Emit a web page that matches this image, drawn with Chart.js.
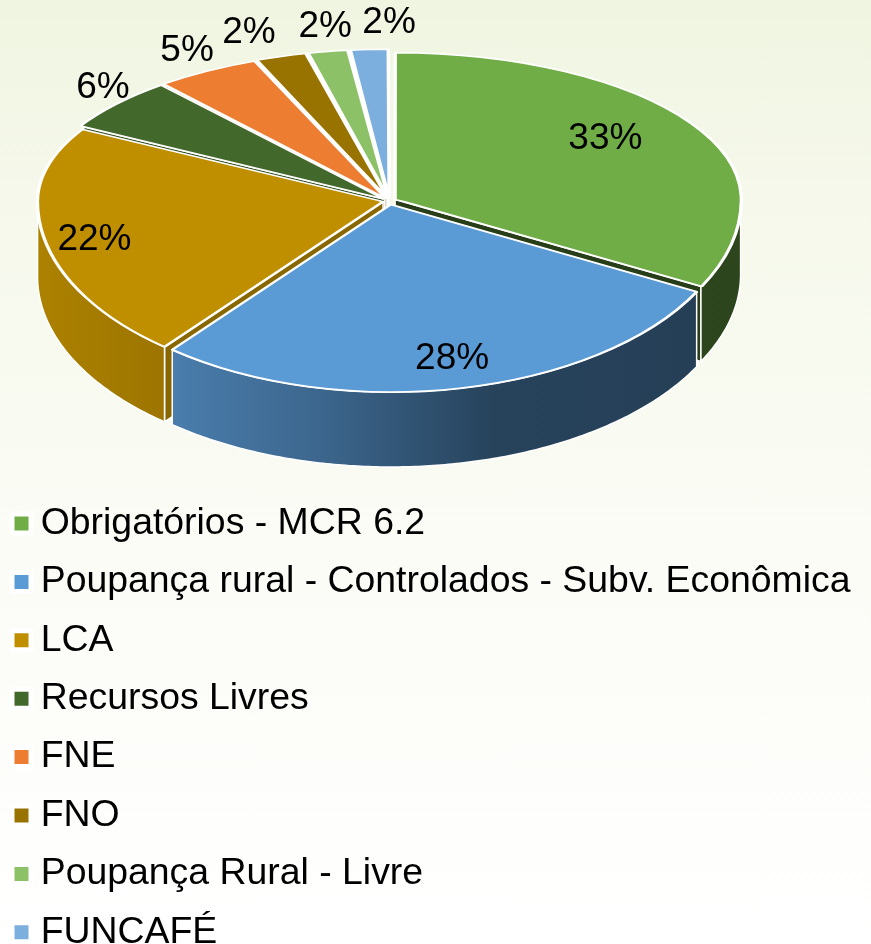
<!DOCTYPE html>
<html lang="pt">
<head>
<meta charset="utf-8">
<title>Pizza 3D</title>
<script src="https://cdn.jsdelivr.net/npm/chart.js@4"></script>
<style>
html,body{margin:0;padding:0;width:871px;height:944px;overflow:hidden;
background:linear-gradient(180deg,#f0f5e1 0%,#f5f8ea 20%,#f9fbf2 45%,#fbfcf6 60%,#ffffff 100%);}
canvas{display:block;}
</style>
</head>
<body>
<canvas id="c" width="871" height="944"></canvas>
<script>
const categories = ["Obrigatórios - MCR 6.2","Poupança rural - Controlados - Subv. Econômica","LCA","Recursos Livres","FNE","FNO","Poupança Rural - Livre","FUNCAFÉ"];
const values = [32.7,28.2,22.3,5.8,4.9,2.4,1.9,1.8];
const percentLabels = ["33%","28%","22%","6%","5%","2%","2%","2%"];
const colors = ["#70ad47","#5b9bd5","#bf8f00","#43682b","#ed7d31","#997300","#8cc168","#7cafdd"];

const LOOK = {cx:389.5, cy:201, rx:345.5, ryTop:146.5, ryBottom:187.5, depth:75, offset:28,
  font:'37px "Liberation Sans"', legendTop:483.8,
  labelRX:[0.73,0.907,0.869,1.082,1.145,1.343,1.082,0.023],
  labelRY:[0.827,0.857,1.113,1.204,1.191,1.202,1.208,1.217]};

function shade(hex,f){
  const n=parseInt(hex.slice(1),16);
  return 'rgb('+[(n>>16)&255,(n>>8)&255,n&255].map(v=>Math.round(v*f)).join(',')+')';
}
const SHADE_STOPS=[[0,.9],[.17,.82],[.4,.66],[.65,.43],[1,.4]];
function shadeAt(t){
  for(let i=1;i<SHADE_STOPS.length;i++){
    const a=SHADE_STOPS[i-1],b=SHADE_STOPS[i];
    if(t<=b[0]) return a[1]+(b[1]-a[1])*(t-a[0])/(b[0]-a[0]);
  }
  return .4;
}
function geom(arc){
  const R=arc.outerRadius, sx=LOOK.rx/R, syT=LOOK.ryTop/R, syB=LOOK.ryBottom/R;
  const mid=(arc.startAngle+arc.endAngle)/2, o=(arc.options.offset||0)/4;
  const ox=Math.cos(mid)*o, oy=Math.sin(mid)*o;
  const warpY=v=>LOOK.cy+v*(v<0?syT:syB);
  const pt=th=>[LOOK.cx+(ox+R*Math.cos(th))*sx, warpY(oy+R*Math.sin(th))];
  return {R,sx,syT,syB,mid,apex:[LOOK.cx+ox*sx,warpY(oy)],pt};
}
function applyHalf(ctx,chart,top){
  const a=chart.getDatasetMeta(0).data[0], g=geom(a);
  ctx.beginPath();
  if(top) ctx.rect(0,0,chart.width,LOOK.cy); else ctx.rect(0,LOOK.cy,chart.width,chart.height-LOOK.cy);
  ctx.clip();
  ctx.translate(LOOK.cx,LOOK.cy); ctx.scale(g.sx,top?g.syT:g.syB); ctx.translate(-a.x,-a.y);
}
const pie3d={
  id:'pie3d',
  afterLayout(chart){
    const l=chart.legend;
    l.left=0; l.right=chart.width; l.width=chart.width;
    l.top=LOOK.legendTop; l.bottom=LOOK.legendTop+520;
  },
  beforeDatasetsDraw(chart){
    const ctx=chart.ctx, arcs=chart.getDatasetMeta(0).data;
    const order=arcs.map((a,i)=>i).sort((p,q)=>{
      const f=a=>Math.sin((a.startAngle+a.endAngle)/2);
      return f(arcs[p])-f(arcs[q]);
    });
    const left=LOOK.cx-LOOK.rx, W=2*LOOK.rx;
    ctx.save();
    ctx.strokeStyle='#fff'; ctx.lineWidth=1.5; ctx.lineJoin='round';
    order.forEach(i=>{
      const a=arcs[i], g=geom(a), d=LOOK.depth, s=a.startAngle, e=a.endAngle;
      const face=th=>{
        const p=g.pt(th);
        ctx.beginPath();
        ctx.moveTo(g.apex[0],g.apex[1]); ctx.lineTo(p[0],p[1]); ctx.lineTo(p[0],p[1]+d); ctx.lineTo(g.apex[0],g.apex[1]+d); ctx.closePath();
        ctx.fillStyle=shade(colors[i],shadeAt((p[0]-left)/W)*.88);
        ctx.fill(); ctx.stroke();
      };
      if(Math.cos(s)<0) face(s);
      if(Math.cos(e)>0) face(e);
      const a0=Math.max(s,0), a1=Math.min(e,Math.PI);
      if(a0<a1){
        const grad=ctx.createLinearGradient(left,0,left+W,0);
        SHADE_STOPS.forEach(st=>grad.addColorStop(st[0],shade(colors[i],st[1])));
        const n=Math.ceil((a1-a0)*90), rim=[];
        for(let k=0;k<=n;k++) rim.push(g.pt(a0+(a1-a0)*k/n));
        ctx.beginPath();
        rim.forEach((p,k)=>k?ctx.lineTo(p[0],p[1]):ctx.moveTo(p[0],p[1]));
        for(let k=n;k>=0;k--) ctx.lineTo(rim[k][0],rim[k][1]+d);
        ctx.closePath();
        ctx.fillStyle=grad; ctx.fill(); ctx.stroke();
      }
    });
    ctx.restore();
    ctx.save();
    applyHalf(ctx,chart,true);
  },
  afterDatasetsDraw(chart){
    const ctx=chart.ctx, meta=chart.getDatasetMeta(0), arcs=meta.data;
    ctx.restore();
    ctx.save();
    applyHalf(ctx,chart,false);
    meta.controller.draw();
    ctx.restore();
    ctx.save();
    ctx.font=LOOK.font; ctx.fillStyle='#000'; ctx.textAlign='center'; ctx.textBaseline='middle';
    arcs.forEach((a,i)=>{
      const g=geom(a), c=Math.cos(g.mid), s=Math.sin(g.mid);
      ctx.fillText(percentLabels[i],
        LOOK.cx+c*LOOK.rx*LOOK.labelRX[i],
        LOOK.cy+s*(s<0?LOOK.ryTop:LOOK.ryBottom)*LOOK.labelRY[i]);
    });
    ctx.restore();
  }
};
new Chart(document.getElementById('c'),{
  type:'pie',
  data:{labels:categories,datasets:[{data:values,backgroundColor:colors,borderColor:'#ffffff',borderWidth:3.6,offset:LOOK.offset}]},
  options:{
    responsive:false, animation:false,
    plugins:{
      tooltip:{enabled:false},
      legend:{
        position:'left', align:'start', maxWidth:100,
        labels:{
          usePointStyle:true, boxWidth:1, boxHeight:19, padding:21, color:'#000',
          font:{family:'"Liberation Sans"',size:37.4},
          generateLabels:()=>categories.map((t,i)=>({text:t,fillStyle:colors[i],strokeStyle:'#ffffff',lineWidth:5,lineJoin:'round',pointStyle:'rect',hidden:false,index:i,fontColor:'#000'}))
        }
      }
    }
  },
  plugins:[pie3d]
});
</script>
</body>
</html>
